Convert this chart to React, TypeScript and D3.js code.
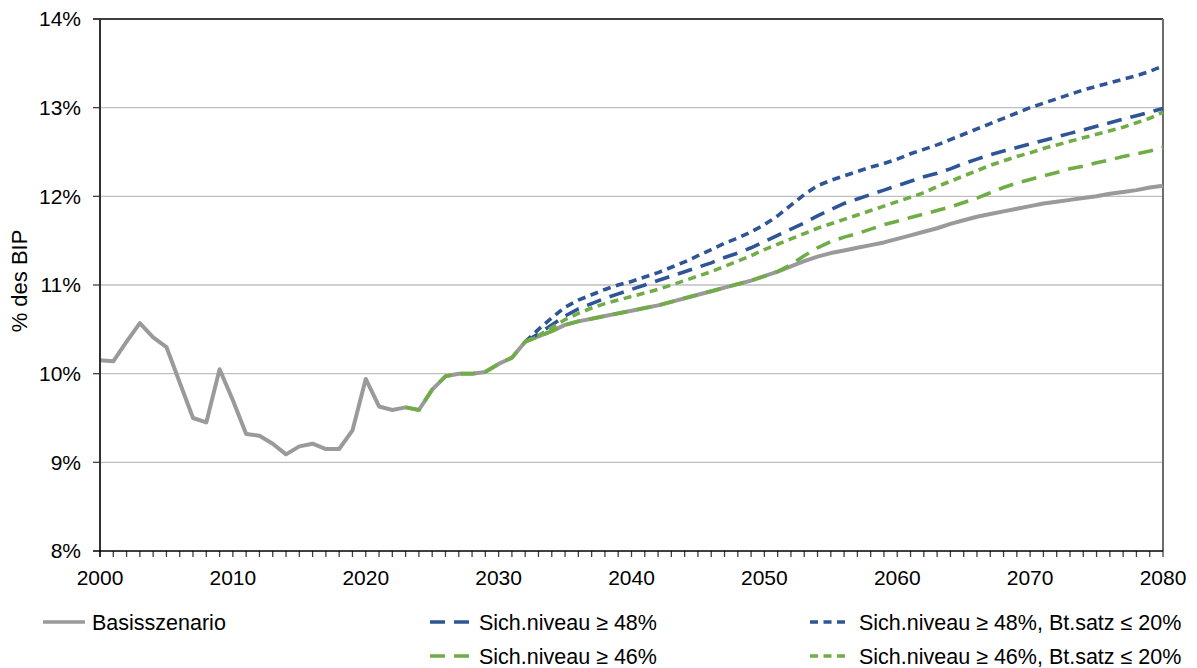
import React from "react";
import * as d3 from "d3";

const yearsHist = d3.range(2000, 2033);
const baseHist = [10.15, 10.14, 10.36, 10.57, 10.41, 10.30, 9.90, 9.50, 9.45, 10.05, 9.70, 9.32, 9.30, 9.21, 9.09, 9.18, 9.21, 9.15, 9.15, 9.36, 9.94, 9.63, 9.59, 9.62, 9.59, 9.82, 9.97, 10.00, 10.00, 10.02, 10.11, 10.18, 10.36];
const yearsProj = d3.range(2033, 2081);
const baseProj = [10.42, 10.48, 10.55, 10.59, 10.62, 10.65, 10.68, 10.71, 10.74, 10.77, 10.81, 10.85, 10.89, 10.93, 10.97, 11.01, 11.05, 11.10,
  11.15, 11.21, 11.27, 11.32, 11.36, 11.39, 11.42, 11.45, 11.48, 11.52, 11.56, 11.60, 11.64, 11.69, 11.73, 11.77, 11.80, 11.83, 11.86, 11.89,
  11.92, 11.94, 11.96, 11.98, 12.00, 12.03, 12.05, 12.07, 12.10, 12.12];
const niv48 = [10.45, 10.55, 10.65, 10.73, 10.79, 10.85, 10.90, 10.95, 11.00, 11.05, 11.10, 11.15, 11.20, 11.25, 11.31, 11.36, 11.42, 11.49,
  11.56, 11.63, 11.70, 11.78, 11.85, 11.92, 11.97, 12.02, 12.07, 12.12, 12.17, 12.22, 12.26, 12.31, 12.37, 12.42, 12.47, 12.51, 12.55, 12.59,
  12.63, 12.67, 12.71, 12.75, 12.79, 12.83, 12.87, 12.91, 12.95, 12.99];
const niv48bt = [10.50, 10.63, 10.75, 10.83, 10.89, 10.95, 11.00, 11.04, 11.09, 11.14, 11.20, 11.26, 11.33, 11.40, 11.47, 11.53, 11.60, 11.68,
  11.78, 11.90, 12.02, 12.12, 12.18, 12.23, 12.28, 12.33, 12.37, 12.42, 12.48, 12.53, 12.58, 12.64, 12.70, 12.76, 12.82, 12.88, 12.94, 13.00,
  13.05, 13.10, 13.15, 13.20, 13.24, 13.28, 13.32, 13.36, 13.41, 13.47];
const niv46 = [10.42, 10.48, 10.55, 10.59, 10.62, 10.65, 10.68, 10.71, 10.74, 10.77, 10.81, 10.85, 10.89, 10.93, 10.97, 11.01, 11.05, 11.10,
  11.15, 11.23, 11.33, 11.42, 11.49, 11.54, 11.58, 11.63, 11.68, 11.72, 11.76, 11.80, 11.84, 11.88, 11.93, 11.98, 12.04, 12.10, 12.15, 12.19,
  12.23, 12.27, 12.31, 12.34, 12.38, 12.41, 12.45, 12.48, 12.51, 12.55];
const niv46bt = [10.43, 10.52, 10.61, 10.68, 10.74, 10.79, 10.83, 10.87, 10.91, 10.95, 11.00, 11.05, 11.10, 11.15, 11.21, 11.27, 11.33, 11.40,
  11.46, 11.52, 11.58, 11.64, 11.69, 11.74, 11.79, 11.84, 11.89, 11.94, 11.99, 12.04, 12.11, 12.17, 12.23, 12.29, 12.35, 12.40, 12.45, 12.49,
  12.54, 12.58, 12.62, 12.66, 12.70, 12.74, 12.78, 12.83, 12.88, 12.95];
const yTicks = [8, 9, 10, 11, 12, 13, 14];
const xTicks = [2000, 2010, 2020, 2030, 2040, 2050, 2060, 2070, 2080];
const labels = ["Basisszenario", "Sich.niveau ≥ 48%", "Sich.niveau ≥ 46%", "Sich.niveau ≥ 48%, Bt.satz ≤ 20%", "Sich.niveau ≥ 46%, Bt.satz ≤ 20%"];

const GREY = "#9a9a9a";
const BLUE = "#2f5597";
const GREEN = "#70ad47";
const LONG = "15 9";
const SHORT = "8 5.5";
const FONT = "'Liberation Sans', Arial, sans-serif";

export default function App() {
  const x = d3.scaleLinear().domain([2000, 2080]).range([100, 1163]);
  const y = d3.scaleLinear().domain([8, 14]).range([551, 19]);
  const line = d3.line<[number, number]>().x(d => x(d[0])).y(d => y(d[1]));

  const baseYears = [...yearsHist, ...yearsProj];
  const baseVals = [...baseHist, ...baseProj];
  const base = baseYears.map((yr, i) => [yr, baseVals[i]] as [number, number]);
  const start: [number, number] = [2032, baseHist[baseHist.length - 1]];
  const mk = (vals: number[]) => [start, ...yearsProj.map((yr, i) => [yr, vals[i]] as [number, number])];
  const g46 = [
    ...yearsHist.filter(yr => yr >= 2023).map(yr => [yr, baseHist[yr - 2000]] as [number, number]),
    ...yearsProj.map((yr, i) => [yr, niv46[i]] as [number, number]),
  ];

  const legendItems = [
    { label: labels[0], color: GREY, dash: "none", lx: 43, ly: 622 },
    { label: labels[1], color: BLUE, dash: LONG, lx: 430, ly: 622 },
    { label: labels[2], color: GREEN, dash: LONG, lx: 430, ly: 656 },
    { label: labels[3], color: BLUE, dash: SHORT, lx: 810, ly: 622 },
    { label: labels[4], color: GREEN, dash: SHORT, lx: 810, ly: 656 },
  ];

  return (
    <svg width={1197} height={668} style={{ position: "absolute", left: 0, top: 0, background: "#fff" }} fontFamily={FONT}>
      {yTicks.filter(t => t > 8 && t < 14).map(t => (
        <line key={t} x1={100} x2={1163} y1={y(t)} y2={y(t)} stroke="#bfbfbf" strokeWidth={1.3} />
      ))}
      <line x1={93} x2={1163} y1={y(14)} y2={y(14)} stroke="#000" strokeWidth={1.4} />
      <line x1={1163} x2={1163} y1={y(14)} y2={y(8)} stroke="#6d6d6d" strokeWidth={2} />
      {yTicks.filter(t => t > 8 && t < 14).map(t => (
        <line key={"t" + t} x1={93} x2={100} y1={y(t)} y2={y(t)} stroke="#404040" strokeWidth={1.3} />
      ))}
      {d3.range(2000, 2081).map(yr => (
        <line key={"x" + yr} x1={x(yr)} x2={x(yr)} y1={551} y2={557} stroke="#404040" strokeWidth={1.3} />
      ))}
      <path d={line(base) || ""} fill="none" stroke={GREY} strokeWidth={4} strokeLinejoin="round" />
      <path d={line(mk(niv48)) || ""} fill="none" stroke={BLUE} strokeWidth={3.6} strokeDasharray={LONG} />
      <path d={line(mk(niv48bt)) || ""} fill="none" stroke={BLUE} strokeWidth={3.6} strokeDasharray={SHORT} />
      <path d={line(mk(niv46bt)) || ""} fill="none" stroke={GREEN} strokeWidth={3.6} strokeDasharray={SHORT} />
      <path d={line(g46) || ""} fill="none" stroke={GREEN} strokeWidth={3.6} strokeDasharray={LONG} />
      <line x1={100} x2={100} y1={y(14)} y2={557} stroke="#303030" strokeWidth={2} />
      <line x1={93} x2={1163} y1={551} y2={551} stroke="#000" strokeWidth={1.6} />
      {yTicks.map(t => (
        <text key={"yl" + t} x={81} y={y(t)} dy="0.35em" textAnchor="end" fontSize={21} fill="#000">{t}%</text>
      ))}
      {xTicks.map(t => (
        <text key={"xl" + t} x={x(t)} y={585} textAnchor="middle" fontSize={21} fill="#000">{t}</text>
      ))}
      <text transform="translate(27,281) rotate(-90)" textAnchor="middle" fontSize={22} fill="#000">% des BIP</text>
      {legendItems.map((it, i) => (
        <g key={"lg" + i}>
          <line x1={it.lx} x2={it.lx + (it.dash === SHORT ? 38 : 42)} y1={it.ly} y2={it.ly} stroke={it.color} strokeWidth={3.6} strokeDasharray={it.dash === "none" ? undefined : it.dash} />
          <text x={it.lx + 49} y={it.ly} dy="0.35em" fontSize={21.5} fill="#000">{it.label}</text>
        </g>
      ))}
    </svg>
  );
}
